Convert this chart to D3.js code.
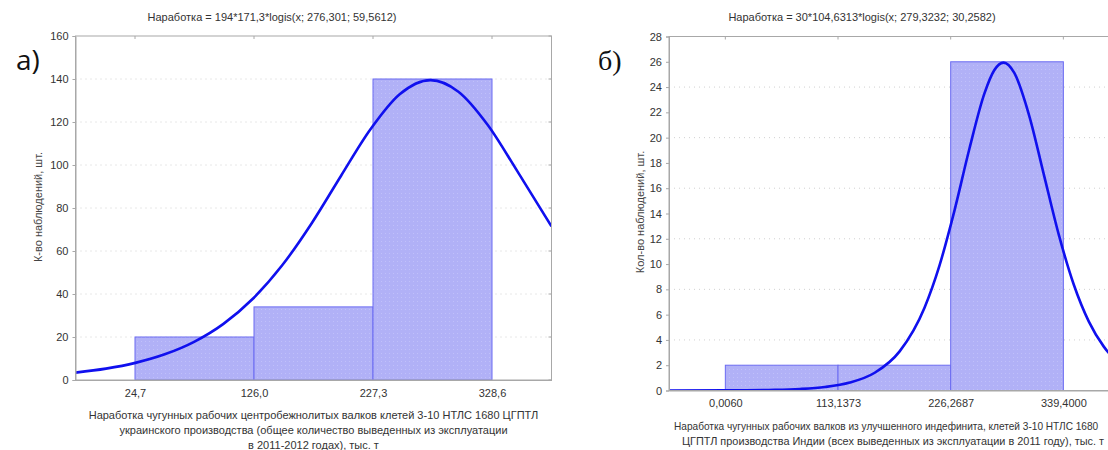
<!DOCTYPE html>
<html><head><meta charset="utf-8">
<script src="https://cdn.jsdelivr.net/npm/d3@7"></script>
<style>
body{margin:0;background:#fff;}
svg{display:block;font-family:"Liberation Sans",Arial,sans-serif;}
</style></head>
<body><svg id="c" width="1108" height="450"></svg>
<script>
// ---- Panel a) data ----
const aTitle = "Наработка = 194*171,3*logis(x; 276,301; 59,5612)";
const aBinEdges = [24.7, 126.0, 227.3, 328.6];
const aCounts = [20, 34, 140];
const aXTickLabels = ["24,7", "126,0", "227,3", "328,6"];
const aYTicks = [0, 20, 40, 60, 80, 100, 120, 140, 160];
const aCurveX = [-25.95, 0, 25, 50, 75, 100, 125, 150, 175, 200, 225, 250, 276.3, 300, 325, 350, 379.25];
const aCurveY = [3.44, 5.29, 7.97, 11.94, 17.75, 26.11, 37.77, 53.34, 72.82, 94.91, 116.5, 132.9, 139.49, 134.1, 118.6, 97.25, 71.46];
const aXLabel = ["Наработка чугунных рабочих центробежнолитых валков клетей 3-10 НТЛС 1680 ЦГПТЛ",
                 "украинского производства (общее количество выведенных из эксплуатации",
                 "в 2011-2012 годах), тыс. т"];
const aYLabel = "К-во наблюдений, шт.";

// ---- Panel б) data ----
const bTitle = "Наработка = 30*104,6313*logis(x; 279,3232; 30,2582)";
const bBinEdges = [0.006, 113.1373, 226.2687, 339.4];
const bCounts = [2, 2, 26];
const bXTickLabels = ["0,0060", "113,1373", "226,2687", "339,4000"];
const bYTicks = [0, 2, 4, 6, 8, 10, 12, 14, 16, 18, 20, 22, 24, 26, 28];
const bCurveX = [-56.56, 0, 50, 75, 100, 125, 150, 175, 200, 215, 230, 245, 260, 270, 279.32, 290, 305, 320, 335, 350, 365, 380, 395.97];
const bCurveY = [0.002, 0.01, 0.053, 0.121, 0.276, 0.628, 1.404, 3.097, 6.553, 9.879, 14.21, 19.10, 23.46, 25.33, 25.935, 25.14, 21.77, 17.02, 12.27, 8.344, 5.451, 3.470, 2.106];
const bXLabel = ["Наработка чугунных рабочих валков из улучшенного индефинита, клетей 3-10 НТЛС 1680",
                 "ЦГПТЛ производства Индии (всех выведенных из эксплуатации в 2011 году), тыс. т"];
const bYLabel = "Кол-во наблюдений, шт.";

const svg = d3.select("#c");
const defs = svg.append("defs");
const pat = defs.append("pattern").attr("id","dots").attr("width",4).attr("height",4).attr("patternUnits","userSpaceOnUse");
pat.append("rect").attr("width",4).attr("height",4).attr("fill","#b1b1f7");
pat.append("rect").attr("x",1).attr("y",1).attr("width",1).attr("height",1).attr("fill","#c0c0fa");

function panel(cfg){
  const g = svg.append("g");
  const x = d3.scaleLinear().domain(cfg.xDomain).range([cfg.left, cfg.right]);
  const y = d3.scaleLinear().domain(cfg.yDomain).range([cfg.bottom, cfg.top]);
  const cid = "clip" + cfg.id;
  defs.append("clipPath").attr("id", cid).append("rect")
    .attr("x", cfg.left).attr("y", cfg.top).attr("width", cfg.right-cfg.left).attr("height", cfg.bottom-cfg.top);

  // grid
  g.append("g").selectAll("line").data(cfg.grid).join("line")
    .attr("x1", cfg.left).attr("x2", cfg.right).attr("y1", d=>y(d)).attr("y2", d=>y(d))
    .attr("stroke","#d0d0d0").attr("stroke-width",1).attr("stroke-dasharray","1,4");

  // bars
  const bins = cfg.counts.map((c,i)=>({x0:cfg.edges[i], x1:cfg.edges[i+1], c}));
  g.append("g").attr("clip-path", `url(#${cid})`).selectAll("rect").data(bins).join("rect")
    .attr("x", d=>x(d.x0)).attr("width", d=>x(d.x1)-x(d.x0))
    .attr("y", d=>y(d.c)).attr("height", d=>y(0)-y(d.c))
    .attr("fill","url(#dots)").attr("stroke","#6b6bf2").attr("stroke-width",1);

  // curve
  const pts = cfg.cx.map((v,i)=>[v, cfg.cy[i]]);
  g.append("path").attr("clip-path", `url(#${cid})`).datum(pts)
    .attr("d", d3.line().x(d=>x(d[0])).y(d=>y(d[1])).curve(d3.curveMonotoneX))
    .attr("fill","none").attr("stroke","#1010ee").attr("stroke-width",2.6);

  // frame
  g.append("rect").attr("x", cfg.left).attr("y", cfg.top).attr("width", cfg.right-cfg.left).attr("height", cfg.bottom-cfg.top)
    .attr("fill","none").attr("stroke","#a8a8a8").attr("stroke-width",1);

  // axes
  const ya = d3.axisLeft(y).tickValues(cfg.yTicks).tickFormat(d3.format("d")).tickSize(3).tickPadding(4);
  const yg = g.append("g").attr("transform",`translate(${cfg.left},0)`).call(ya);
  const xa = d3.axisBottom(x).tickValues(cfg.edges).tickFormat((d,i)=>cfg.xLabels[i]).tickSize(0).tickPadding(cfg.xPad);
  const xg = g.append("g").attr("transform",`translate(0,${cfg.bottom})`).call(xa);
  [yg,xg].forEach(a=>{
    a.select(".domain").attr("stroke","#a8a8a8");
    a.selectAll(".tick line").attr("stroke","#a8a8a8");
    a.selectAll("text").attr("fill","#333").style("font-size","11px");
  });
  // inner ticks top / right
  g.append("g").selectAll("line").data(cfg.edges).join("line")
    .attr("x1", d=>x(d)).attr("x2", d=>x(d)).attr("y1", cfg.top).attr("y2", cfg.top+3).attr("stroke","#a8a8a8");
  g.append("g").selectAll("line").data(cfg.yTicks).join("line")
    .attr("x1", cfg.right).attr("x2", cfg.right-3).attr("y1", d=>y(d)).attr("y2", d=>y(d)).attr("stroke","#a8a8a8");

  // title
  g.append("text").attr("x", cfg.titleX).attr("y", 21).attr("text-anchor","middle")
    .style("font-size","11px").attr("fill","#333").text(cfg.title);
  // x label
  const xl = g.append("g").selectAll("text").data(cfg.xLabel).join("text")
    .attr("y", (d,i)=>cfg.xLabelY + i*15)
    .attr("fill","#333").text(d=>d);
  if (cfg.xLabelPos) {
    xl.attr("x", (d,i)=>cfg.xLabelPos[i][0]).attr("text-anchor","start")
      .style("font-size", (d,i)=>cfg.xLabelPos[i][1] + "px");
  } else {
    xl.attr("x", (cfg.left+cfg.right)/2).attr("text-anchor","middle").style("font-size","11px");
  }
  // y label
  g.append("text").attr("transform",`translate(${cfg.yLabelX},${cfg.yLabelY}) rotate(-90)`).attr("text-anchor","middle")
    .style("font-size","11px").attr("fill","#444").text(cfg.yLabel);
  // panel letter
  g.append("text").attr("x", cfg.letterX).attr("y", 70).style("font-size", "28px")
    .style("font-family", cfg.letterFont).attr("fill","#111").text(cfg.letter);
}

panel({id:"a", left:75.5, right:551.5, top:36, bottom:380,
  xDomain:[-25.95, 379.25], yDomain:[0,160], edges:aBinEdges, counts:aCounts,
  cx:aCurveX, cy:aCurveY, yTicks:aYTicks, grid:[20,40,60,80,100,120,140], xLabels:aXTickLabels, xPad:9,
  title:aTitle, titleX:272, xLabel:aXLabel, xLabelY:419, yLabel:aYLabel, yLabelX:42, yLabelY:207,
  letter:"а)", letterX:16, letterFont:"'Open Sans', 'DejaVu Sans', sans-serif"});

panel({id:"b", left:669, right:1119.7, top:36.5, bottom:390.5,
  xDomain:[-56.56, 395.97], yDomain:[0,28], edges:bBinEdges, counts:bCounts,
  cx:bCurveX, cy:bCurveY, yTicks:bYTicks, grid:[4,8,12,16,20,24], xLabels:bXTickLabels, xPad:9,
  title:bTitle, titleX:862, xLabel:bXLabel, xLabelY:430, xLabelPos:[[674,10.1],[682,10.9]],
  yLabel:bYLabel, yLabelX:644, yLabelY:212,
  letter:"б)", letterX:598, letterFont:"'Liberation Serif', 'DejaVu Serif', serif"});
</script></body></html>
